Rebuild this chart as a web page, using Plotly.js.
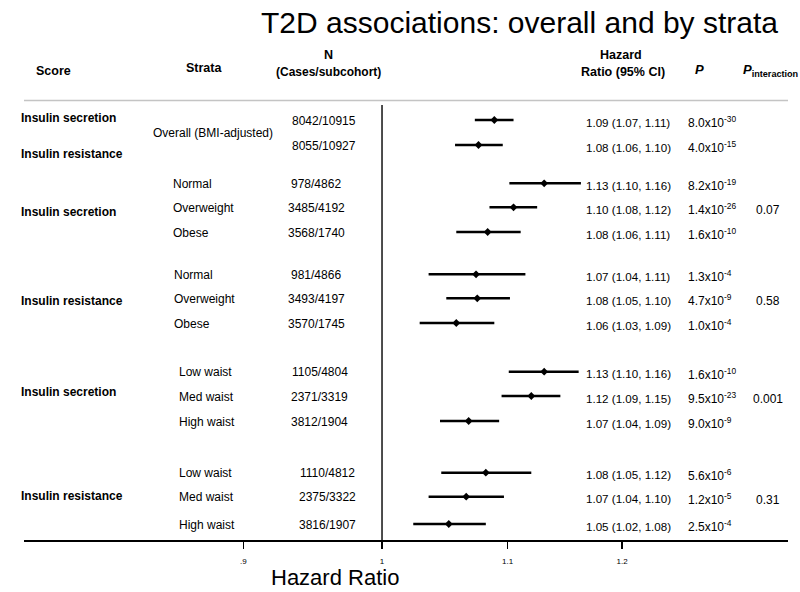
<!DOCTYPE html>
<html>
<head>
<meta charset="utf-8">
<script src="https://cdn.plot.ly/plotly-3.0.1.min.js"></script>
<style>html,body{margin:0;padding:0;background:#fff;}#chart{width:800px;height:592px;}</style>
</head>
<body>
<div id="chart"></div>
<script>
// ---- data ----
const groupScores = ["Insulin secretion", "Insulin resistance", "Insulin secretion", "Insulin resistance", "Insulin secretion", "Insulin resistance"];
const strata = ["Overall (BMI-adjusted)", "Normal", "Overweight", "Obese", "Normal", "Overweight", "Obese",
                "Low waist", "Med waist", "High waist", "Low waist", "Med waist", "High waist"];
const nText = ["8042/10915", "8055/10927", "978/4862", "3485/4192", "3568/1740", "981/4866", "3493/4197", "3570/1745",
               "1105/4804", "2371/3319", "3812/1904", "1110/4812", "2375/3322", "3816/1907"];
const hr = [1.089, 1.076, 1.131, 1.105, 1.0835, 1.074, 1.075, 1.058, 1.131, 1.120, 1.068, 1.082, 1.066, 1.052];
const lo = [1.073, 1.057, 1.1015, 1.085, 1.058, 1.036, 1.050, 1.029, 1.101, 1.095, 1.045, 1.046, 1.036, 1.024];
const hi = [1.105, 1.096, 1.163, 1.125, 1.111, 1.115, 1.102, 1.089, 1.161, 1.145, 1.093, 1.120, 1.097, 1.082];
const hrText = ["1.09 (1.07, 1.11)", "1.08 (1.06, 1.10)", "1.13 (1.10, 1.16)", "1.10 (1.08, 1.12)", "1.08 (1.06, 1.11)",
                "1.07 (1.04, 1.11)", "1.08 (1.05, 1.10)", "1.06 (1.03, 1.09)", "1.13 (1.10, 1.16)", "1.12 (1.09, 1.15)",
                "1.07 (1.04, 1.09)", "1.08 (1.05, 1.12)", "1.07 (1.04, 1.10)", "1.05 (1.02, 1.08)"];
const pMant = ["8.0", "4.0", "8.2", "1.4", "1.6", "1.3", "4.7", "1.0", "1.6", "9.5", "9.0", "5.6", "1.2", "2.5"];
const pExp = ["-30", "-15", "-19", "-26", "-10", "-4", "-9", "-4", "-10", "-23", "-9", "-6", "-5", "-4"];
const pInteraction = ["0.07", "0.58", "0.001", "0.31"];
const xTickVals = [0.9, 1, 1.1, 1.2];
const xTickText = [".9", "1", "1.1", "1.2"];

// ---- layout positions (page pixels) ----
const rowY = [120, 145, 183.3, 207.3, 232, 274.3, 298.3, 323, 371.7, 396, 421, 472.7, 496.7, 524];
const groupLabelY = [117.5, 153.5, 212, 300.5, 392.3, 495.7];
const strataRow = [0.5, 2, 3, 4, 5, 6, 7, 8, 9, 10, 11, 12, 13]; // index into rowY (0.5 = between rows 0 and 1)
const strataX = [151, 171, 171, 171, 172, 172, 172, 177, 177, 177, 177, 177, 177];
const nX = [324, 324, 316, 316, 316, 316, 316, 316, 320, 319, 319, 327, 327, 327];
const pIntRow = [3, 6, 9, 12];

const L = 24, R = 788, T = 40, B = 540;
const px = x => (x - L) / (R - L);
const py = y => (B - y) / (B - T);
const FONT = '"Liberation Sans", Arial, Helvetica, sans-serif';

function ann(text, x, y, opts) {
  return Object.assign({
    text: text, x: px(x), y: py(y), xref: 'paper', yref: 'paper',
    showarrow: false, xanchor: 'center', yanchor: 'middle',
    font: {family: FONT, size: 12, color: '#000'}
  }, opts || {});
}

const annotations = [];
// headers
annotations.push(ann('<b>Score</b>', 53, 70.7, {font: {family: FONT, size: 12.5, color: '#000'}}));
annotations.push(ann('<b>Strata</b>', 204, 67.7, {font: {family: FONT, size: 12.5, color: '#000'}}));
annotations.push(ann('<b>N</b>', 328, 55, {font: {family: FONT, size: 12.5, color: '#000'}}));
annotations.push(ann('<b>(Cases/subcohort)</b>', 328, 72.5, {font: {family: FONT, size: 12, color: '#000'}}));
annotations.push(ann('<b>Hazard</b>', 621, 55, {font: {family: FONT, size: 12.5, color: '#000'}}));
annotations.push(ann('<b>Ratio (95% CI)</b>', 623, 72.5, {font: {family: FONT, size: 12.5, color: '#000'}}));
annotations.push(ann('<b><i>P</i></b>', 699.5, 69, {font: {family: FONT, size: 13, color: '#000'}}));
annotations.push(ann('<b><i>P</i></b><sub><b>interaction</b></sub>', 741, 70, {xanchor: 'left', font: {family: FONT, size: 13, color: '#000'}}));

// group score labels
groupScores.forEach((s, i) => annotations.push(ann('<b>' + s + '</b>', 19, groupLabelY[i], {xanchor: 'left'})));

// strata labels
strata.forEach((s, i) => {
  const r = strataRow[i];
  const y = r % 1 === 0 ? rowY[r] : (rowY[Math.floor(r)] + rowY[Math.ceil(r)]) / 2;
  annotations.push(ann(s, strataX[i], y + 0.5, {xanchor: 'left'}));
});

// N, HR, P texts
nText.forEach((t, i) => annotations.push(ann(t, nX[i], rowY[i] + 0.5)));
hrText.forEach((t, i) => annotations.push(ann(t, 584, rowY[i] + 2, {xanchor: 'left', font: {family: FONT, size: 11.6, color: '#000'}})));
pMant.forEach((m, i) => annotations.push(ann(m + 'x10<sup>' + pExp[i] + '</sup>', 686, rowY[i] + 2, {xanchor: 'left'})));
pInteraction.forEach((t, i) => annotations.push(ann(t, 768, rowY[pIntRow[i]] + 3)));

// x-axis title
annotations.push(ann('Hazard Ratio', 334.5, 577, {font: {family: FONT, size: 22, color: '#000'}}));

const traces = [
  {
    x: [1, 1], y: [105, B], mode: 'lines', type: 'scatter',
    line: {color: '#222', width: 1.6}, hoverinfo: 'skip', showlegend: false
  },
  {
    x: hr, y: rowY, mode: 'markers', type: 'scatter',
    marker: {symbol: 'diamond', size: 6, color: '#000'},
    error_x: {
      type: 'data', symmetric: false,
      array: hi.map((h, i) => h - hr[i]),
      arrayminus: hr.map((v, i) => v - lo[i]),
      thickness: 2.4, width: 0, color: '#000'
    },
    showlegend: false
  }
];

const layout = {
  width: 800, height: 592,
  margin: {l: L, r: 800 - R, t: T, b: 592 - B, pad: 0},
  paper_bgcolor: '#fff', plot_bgcolor: '#fff',
  font: {family: FONT, color: '#000'},
  title: {
    text: 'T2D associations: overall and by strata',
    xref: 'container', yref: 'container', x: 519.5 / 800, xanchor: 'center',
    y: 1 - 22 / 592, yanchor: 'middle',
    font: {family: FONT, size: 30, color: '#000'}
  },
  xaxis: {
    type: 'log',
    range: [Math.log10(0.762), Math.log10(1.361)],
    tickvals: xTickVals, ticktext: xTickText,
    ticks: 'outside', ticklen: 7, tickwidth: 1.4, tickcolor: '#000',
    ticklabelstandoff: 6,
    tickfont: {family: FONT, size: 8, color: '#000'},
    showline: true, linecolor: '#000', linewidth: 1.5,
    showgrid: false, zeroline: false, fixedrange: true
  },
  yaxis: {
    range: [B, T], visible: false, showgrid: false, zeroline: false, fixedrange: true
  },
  shapes: [
    {type: 'line', xref: 'paper', yref: 'paper', x0: 0, x1: 1, y0: py(100.5), y1: py(100.5),
     line: {color: '#c4c4c4', width: 1.3}}
  ],
  annotations: annotations,
  showlegend: false
};

Plotly.newPlot('chart', traces, layout, {displayModeBar: false, staticPlot: true});
</script>
</body>
</html>
